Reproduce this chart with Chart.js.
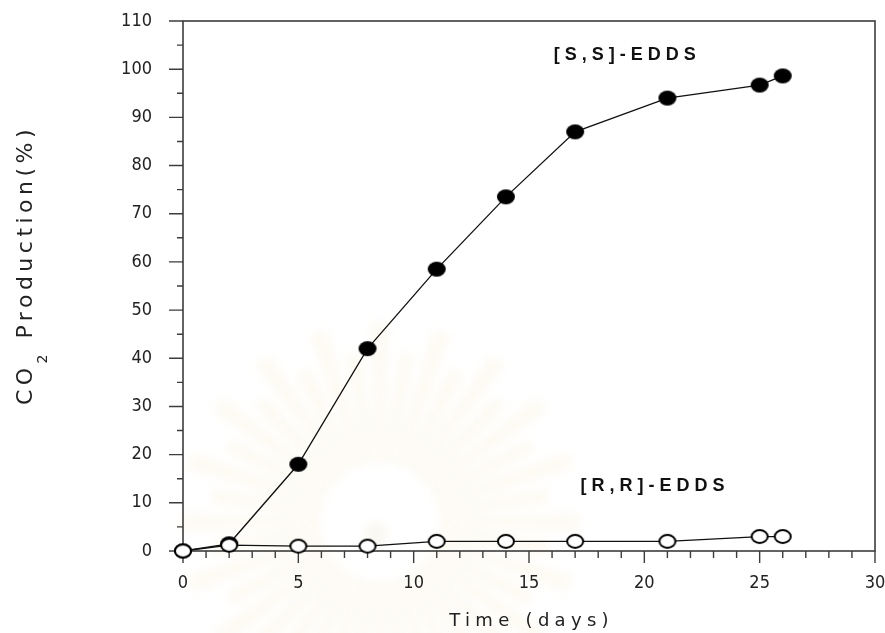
<!DOCTYPE html>
<html>
<head>
<meta charset="utf-8">
<script src="https://cdn.jsdelivr.net/npm/chart.js@4"></script>
<style>
  html, body { margin: 0; padding: 0; background: #fff; }
  #wrap { width: 885px; height: 633px; position: relative; }
</style>
</head>
<body>
<div id="wrap"><canvas id="co2"></canvas></div>
<script>
// data
const days = [0, 2, 5, 8, 11, 14, 17, 21, 25, 26]
const ssEdds = [0, 1.5, 18, 42, 58.5, 73.5, 87, 94, 96.7, 98.6]
const rrEdds = [0, 1.2, 1, 1, 2, 2, 2, 2, 3, 3]
const xTicks = [0, 5, 10, 15, 20, 25, 30]
const yTicks = [0, 10, 20, 30, 40, 50, 60, 70, 80, 90, 100, 110]
const seriesLabels = ['[S,S]-EDDS', '[R,R]-EDDS']
const labelPos = [{ x: 19.15, y: 103 }, { x: 20.35, y: 13.5 }]

const tickFamily = "'DejaVu Sans Condensed', 'DejaVu Sans', sans-serif"
const axisCol = '#3c3c3c'

// slightly flattened dots, like the scanned figure
const ellipse = (w, h, fill, stroke) => {
	const c = document.createElement('canvas')
	c.width = w + 4
	c.height = h + 4
	const g = c.getContext('2d')
	g.beginPath()
	g.ellipse(c.width / 2, c.height / 2, w / 2, h / 2, 0, 0, Math.PI * 2)
	g.fillStyle = fill
	g.fill()
	if (stroke) {
		g.lineWidth = 2
		g.strokeStyle = stroke
		g.stroke()
	}
	return c
}

const toPoints = (ys) => days.map((d, i) => ({ x: d, y: ys[i] }))

// keep the plot box where the figure has it
const noPad = (s) => {
	s.paddingTop = 0
	s.paddingBottom = 0
	s.paddingLeft = 0
	s.paddingRight = 0
}

// very faint sunburst watermark of the scanned page
const watermark = {
	id: 'watermark',
	beforeDraw(chart) {
		const ctx = chart.ctx
		const cx = 380, cy = 522
		ctx.save()
		ctx.filter = 'blur(5px)'
		ctx.fillStyle = 'rgba(240, 226, 175, 0.16)'
		const n = 40
		for (let i = 0; i < n; i++) {
			const a = (i / n) * Math.PI * 2
			const r = i % 2 ? 170 : 200
			const hw = Math.PI / n * 0.9
			ctx.beginPath()
			ctx.moveTo(cx + Math.cos(a - hw) * 60, cy + Math.sin(a - hw) * 60)
			ctx.lineTo(cx + Math.cos(a - hw * 0.6) * r, cy + Math.sin(a - hw * 0.6) * r)
			ctx.lineTo(cx + Math.cos(a + hw * 0.6) * r, cy + Math.sin(a + hw * 0.6) * r)
			ctx.lineTo(cx + Math.cos(a + hw) * 60, cy + Math.sin(a + hw) * 60)
			ctx.closePath()
			ctx.fill()
		}
		ctx.fillStyle = 'rgba(235, 228, 205, 0.25)'
		ctx.beginPath()
		ctx.arc(cx - 4, cy + 12, 12, 0, Math.PI * 2)
		ctx.fill()
		ctx.restore()
	}
}

const frame = {
	id: 'frame',
	beforeDatasetsDraw(chart) {
		const { ctx, chartArea: a, scales } = chart
		const x = scales.x, y = scales.y
		ctx.save()
		ctx.strokeStyle = axisCol
		ctx.lineWidth = 1.6
		ctx.strokeRect(a.left, a.top, a.right - a.left, a.bottom - a.top)
		ctx.lineWidth = 1.4
		ctx.beginPath()
		for (let v = 0; v <= 30; v++) {
			const px = x.getPixelForValue(v)
			const len = v % 5 === 0 ? 12 : 7
			ctx.moveTo(px, a.bottom)
			ctx.lineTo(px, a.bottom + len)
		}
		for (let v = 0; v <= 110; v += 5) {
			const py = y.getPixelForValue(v)
			const len = v % 10 === 0 ? 14 : 6
			ctx.moveTo(a.left, py)
			ctx.lineTo(a.left - len, py)
		}
		ctx.stroke()
		ctx.restore()
	},
	afterDraw(chart) {
		const { ctx, chartArea: a, scales } = chart
		ctx.save()
		ctx.fillStyle = '#111'
		ctx.textBaseline = 'middle'
		ctx.textAlign = 'center'

		// series labels
		ctx.font = "bold 18px 'Liberation Sans', Arial, sans-serif"
		ctx.letterSpacing = '5px'
		seriesLabels.forEach((t, i) => {
			ctx.fillText(t, scales.x.getPixelForValue(labelPos[i].x) + 2.5, scales.y.getPixelForValue(labelPos[i].y))
		})

		// x title
		ctx.fillStyle = '#222'
		ctx.font = "18px 'DejaVu Sans', sans-serif"
		ctx.letterSpacing = '5.3px'
		ctx.fillText('Time (days)', (a.left + a.right) / 2 + 2.6, 621)

		// y title with subscript 2
		ctx.translate(32, 265)
		ctx.rotate(-Math.PI / 2)
		ctx.textAlign = 'left'
		ctx.textBaseline = 'alphabetic'
		ctx.letterSpacing = '4.5px'
		const big = "22px 'DejaVu Sans', sans-serif"
		const small = "14px 'DejaVu Sans', sans-serif"
		ctx.font = big
		const w1 = ctx.measureText('CO').width
		const w3 = ctx.measureText(' Production(%)').width
		ctx.font = small
		const w2 = ctx.measureText('2').width
		let sx = -(w1 + w2 + w3) / 2
		ctx.font = big
		ctx.fillText('CO', sx, 0)
		sx += w1
		ctx.font = small
		ctx.fillText('2', sx, 15)
		sx += w2
		ctx.font = big
		ctx.fillText(' Production(%)', sx, 0)
		ctx.restore()
	}
}

const chart = new Chart(document.getElementById('co2'), {
	type: 'scatter',
	data: {
		datasets: [
			{
				label: seriesLabels[1],
				data: toPoints(rrEdds),
				showLine: true,
				borderColor: '#111',
				borderWidth: 1.3,
				pointStyle: ellipse(16, 13, '#fff', '#000'),
				clip: false,
				order: 0
			},
			{
				label: seriesLabels[0],
				data: toPoints(ssEdds),
				showLine: true,
				borderColor: '#111',
				borderWidth: 1.3,
				pointStyle: ellipse(18, 15, '#000'),
				clip: false,
				order: 1
			}
		]
	},
	options: {
		responsive: true,
		maintainAspectRatio: false,
		animation: false,
		layout: { padding: { top: 21, right: 10, left: 0, bottom: 0 } },
		plugins: { legend: { display: false }, tooltip: { enabled: false } },
		scales: {
			x: {
				type: 'linear',
				min: 0,
				max: 30,
				afterFit: (s) => { s.height = 82; noPad(s) },
				afterBuildTicks: (s) => { s.ticks = xTicks.map(v => ({ value: v })) },
				grid: { display: false, drawTicks: false },
				border: { display: false },
				ticks: { font: { family: tickFamily, size: 18 }, color: '#222', padding: 22, maxRotation: 0 }
			},
			y: {
				type: 'linear',
				min: 0,
				max: 110,
				afterFit: (s) => { s.width = 183; noPad(s) },
				afterBuildTicks: (s) => { s.ticks = yTicks.map(v => ({ value: v })) },
				grid: { display: false, drawTicks: false },
				border: { display: false },
				ticks: { font: { family: tickFamily, size: 18 }, color: '#222', padding: 31 }
			}
		}
	},
	plugins: [watermark, frame]
})
</script>
</body>
</html>
